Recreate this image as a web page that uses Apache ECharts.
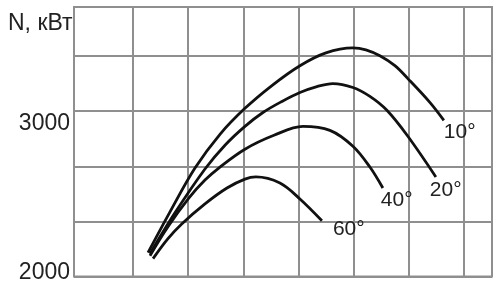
<!DOCTYPE html>
<html>
<head>
<meta charset="utf-8">
<script src="https://cdn.jsdelivr.net/npm/echarts@6/dist/echarts.min.js"></script>
<style>
html,body{margin:0;padding:0;background:#fff;}
#c{width:500px;height:284px;}
</style>
</head>
<body>
<div id="c"></div>
<script>
// Data (x in grid-cell units, y in kW)
var seriesNames = ['10°', '20°', '40°', '60°'];
var curve10 = [[0.272,2144],[0.671,2391],[1.124,2656],[1.577,2860],[2.030,3017],[2.519,3155],[3.027,3275],[3.498,3353],[3.988,3383],[4.223,3371],[4.477,3335],[4.749,3275],[4.984,3197],[5.383,3053],[5.637,2944]];
var curve20 = [[0.308,2138],[0.761,2385],[1.305,2650],[1.668,2794],[2.030,2908],[2.356,2992],[2.701,3059],[3.027,3113],[3.335,3149],[3.625,3167],[3.988,3143],[4.296,3089],[4.604,3005],[4.984,2848],[5.492,2602]];
var curve40 = [[0.308,2126],[0.634,2301],[1.015,2475],[1.305,2583],[1.577,2662],[2.030,2770],[2.556,2854],[3.081,2908],[3.571,2884],[3.988,2788],[4.296,2662],[4.531,2535]];
var curve60 = [[0.363,2108],[0.634,2229],[0.888,2319],[1.305,2439],[1.704,2535],[2.030,2589],[2.229,2602],[2.664,2565],[3.027,2469],[3.426,2337]];
var xGridValues = [0, 1, 2, 3, 4, 5, 6];
var yTickLabels = [2000, 3000];
var yAxisTitle = 'N, кВт';

var curves = [curve10, curve20, curve40, curve60];
var labelOffsets = [[-8, 12], [-14, 13], [-10, 12], [3, 8]];

var chart = echarts.init(document.getElementById('c'), null, {renderer: 'canvas'});
var gridColor = '#8f8f8f';
var font = 'Liberation Sans, Arial, sans-serif';

var series = curves.map(function (d, i) {
  return {
    name: seriesNames[i],
    type: 'line',
    data: d,
    smooth: 0.35,
    symbol: 'none',
    lineStyle: {color: '#111', width: 2.8},
    endLabel: {
      show: true,
      formatter: seriesNames[i],
      fontSize: 21,
      fontFamily: font,
      color: '#222',
      offset: labelOffsets[i]
    },
    z: 3
  };
});

chart.setOption({
  animation: false,
  backgroundColor: '#fff',
  title: {
    text: yAxisTitle,
    left: 3,
    top: 7,
    textStyle: {fontSize: 23, fontWeight: 'normal', color: '#222', fontFamily: font}
  },
  grid: {
    left: 74, right: 8, top: 7, bottom: 6,
    show: true, borderColor: gridColor, borderWidth: 2, backgroundColor: 'transparent'
  },
  xAxis: {
    type: 'value', min: -1.07, max: 6.51,
    axisLine: {show: false},
    axisTick: {show: false, customValues: xGridValues},
    axisLabel: {show: false, customValues: xGridValues},
    splitLine: {show: true, lineStyle: {color: gridColor, width: 2}}
  },
  yAxis: {
    type: 'value', min: 2000, max: 3630, interval: 1000 / 3,
    axisLine: {show: false}, axisTick: {show: false},
    splitLine: {show: true, lineStyle: {color: gridColor, width: 2}},
    axisLabel: {
      margin: 4,
      fontSize: 23,
      fontFamily: font,
      color: '#222',
      formatter: function (v) {
        for (var i = 0; i < yTickLabels.length; i++) {
          if (Math.abs(v - yTickLabels[i]) < 1) {
            return (i === 0 ? '{b|' : '{a|') + yTickLabels[i] + '}';
          }
        }
        return '';
      },
      rich: {
        a: {fontSize: 23, fontFamily: font, color: '#222', padding: [25, 0, 0, 0]},
        b: {fontSize: 23, fontFamily: font, color: '#222', padding: [0, 0, 8, 0]}
      }
    }
  },
  series: series
});
</script>
</body>
</html>
